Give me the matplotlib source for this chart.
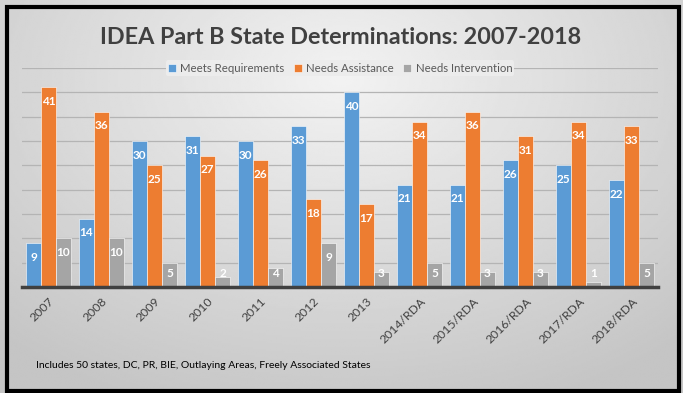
import numpy as np
import matplotlib.pyplot as plt
from matplotlib.patches import Rectangle

categories = ["2007", "2008", "2009", "2010", "2011", "2012", "2013",
              "2014/RDA", "2015/RDA", "2016/RDA", "2017/RDA", "2018/RDA"]
meets = [9, 14, 30, 31, 30, 33, 40, 21, 21, 26, 25, 22]
assistance = [41, 36, 25, 27, 26, 18, 17, 34, 36, 31, 34, 33]
intervention = [10, 10, 5, 2, 4, 9, 3, 5, 3, 3, 1, 5]

series = [
    ("Meets Requirements", meets, "#5B9BD5"),
    ("Needs Assistance", assistance, "#ED7D31"),
    ("Needs Intervention", intervention, "#A5A5A5"),
]

plt.rcParams["font.family"] = ["Lato", "DejaVu Sans"]

W, H = 683, 393
fig = plt.figure(figsize=(W / 100, H / 100), dpi=100)

# gradient background
bg = fig.add_axes([0, 0, 1, 1], zorder=-10)
yy, xx = np.mgrid[0:1:200j, 0:1:350j]
r = np.sqrt(((xx - 0.5) / 0.75) ** 2 + ((yy - 0.2) / 0.9) ** 2)
shade = 0.95 - 0.18 * np.clip(r, 0, 1)
bg.imshow(shade, cmap="gray", vmin=0, vmax=1, aspect="auto",
          extent=[0, 1, 1, 0], interpolation="bilinear")
bg.set_xlim(0, 1)
bg.set_ylim(1, 0)
bg.axis("off")

# black frame
fig.patches.append(Rectangle((6.5 / W, 1 - 390.5 / H), 672 / W, 384 / H,
                             transform=fig.transFigure, fill=False,
                             edgecolor="black", lw=3, zorder=5))

ax = fig.add_axes([22 / W, 1 - 287 / H, 636 / W, 219 / H])
ax.set_facecolor("none")

x = np.arange(len(categories))
width = 0.265
step = 0.283
for i, (name, vals, col) in enumerate(series):
    xs = x + (i - 1) * step
    ax.bar(xs, vals, width, color=col, edgecolor="white", linewidth=0.4,
           label=name, zorder=3)
    for xi, v in zip(xs, vals):
        ax.text(xi, max(v - 2.9, 2.8), str(v), ha="center", va="center",
                color="white", fontsize=8.5, fontweight="bold", zorder=4)

ax.set_xlim(-0.5, len(categories) - 0.5)
ax.set_ylim(0, 45)
ax.set_yticks(np.arange(5, 46, 5))
ax.yaxis.grid(True, color="#b4b4b4", lw=0.9, zorder=0)
ax.set_axisbelow(True)
ax.tick_params(axis="y", left=False, labelleft=False)
ax.tick_params(axis="x", length=0, pad=6)
ax.set_xticks(x)
ax.set_xticklabels(categories, rotation=45, ha="right",
                   rotation_mode="anchor", fontsize=8.8, color="#404040")
for s in ["top", "right", "left"]:
    ax.spines[s].set_visible(False)
ax.spines["bottom"].set_color("#404040")
ax.spines["bottom"].set_linewidth(2.5)
ax.spines["bottom"].set_zorder(5)

leg = ax.legend(loc="center", bbox_to_anchor=(0.5, 1.0), ncol=3, fontsize=8.2,
                frameon=True, handlelength=0.7, handleheight=0.7,
                columnspacing=0.8, handletextpad=0.4, borderpad=0.2)
leg.get_frame().set_facecolor("#ececec")
leg.get_frame().set_edgecolor("none")
leg.get_frame().set_alpha(1)
for t in leg.get_texts():
    t.set_color("#595959")

fig.text(341 / W, 1 - 38 / H, "IDEA Part B State Determinations: 2007-2018",
         ha="center", va="center", fontsize=16.8, fontweight="bold",
         color="#404040")
fig.text(36 / W, 1 - 365 / H,
         "Includes 50 states, DC, PR, BIE, Outlaying Areas, Freely Associated States",
         ha="left", va="center", fontsize=7.5, color="black")

fig.savefig("out.png", dpi=100)
